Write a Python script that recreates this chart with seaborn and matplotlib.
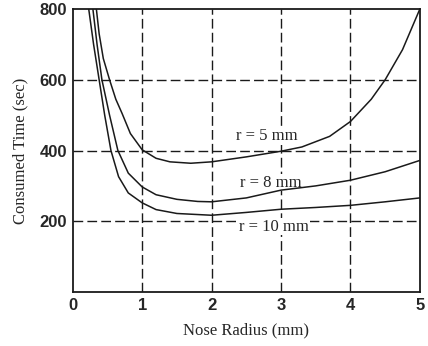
import numpy as np
import pandas as pd
import seaborn as sns
from matplotlib import pyplot as plt

# values
r5_x = [0.34, 0.38, 0.44, 0.53, 0.62, 0.71, 0.83, 1.0, 1.2, 1.4, 1.7, 2.0,
        2.5, 3.0, 3.3, 3.7, 4.0, 4.3, 4.5, 4.75, 5.0]
r5_y = [800, 730, 660, 600, 545, 505, 448, 402, 378, 368, 364, 368,
        382, 398, 410, 440, 482, 545, 600, 685, 800]

r8_x = [0.29, 0.35, 0.42, 0.53, 0.65, 0.8, 1.0, 1.2, 1.5, 1.8, 2.0,
        2.5, 3.0, 3.5, 4.0, 4.5, 5.0]
r8_y = [800, 700, 600, 500, 400, 336, 297, 275, 262, 256, 255,
        266, 288, 300, 316, 340, 372]

r10_x = [0.23, 0.30, 0.38, 0.46, 0.55, 0.66, 0.8, 1.0, 1.2, 1.5, 2.0,
         2.5, 3.0, 3.5, 4.0, 4.5, 5.0]
r10_y = [800, 700, 600, 500, 400, 326, 280, 252, 233, 222, 217,
         225, 234, 239, 245, 255, 266]

curve_labels = ["r = 5 mm", "r = 8 mm", "r = 10 mm"]
label_x = [2.79, 2.85, 2.9]
label_y = [441, 309, 185]

x_ticks = [0, 1, 2, 3, 4, 5]
y_ticks = [200, 400, 600, 800]

sns.set_theme(style="white")
plt.rcParams["font.family"] = ["Liberation Serif", "DejaVu Serif"]

f = plt.figure(figsize=(4.28, 3.46), dpi=100)
ax = f.add_axes([0.170, 0.156, 0.811, 0.818])

for xs, ys in [(r5_x, r5_y), (r8_x, r8_y), (r10_x, r10_y)]:
    sns.lineplot(x=xs, y=ys, color="k", linewidth=1.1, sort=False,
                 estimator=None, ax=ax, zorder=3)

ax.set_xlim(0, 5)
ax.set_ylim(0, 800)
ax.set_xticks(x_ticks)
ax.set_yticks(y_ticks)

for v in x_ticks[1:-1]:
    ax.axvline(v, color="k", linewidth=1.0, linestyle=(0, (7, 3)), zorder=1)
for v in y_ticks[:-1]:
    ax.axhline(v, color="k", linewidth=1.0, linestyle=(0, (7, 3)), zorder=1)

# labels blank out the gridlines behind them, curves stay on top
for s, x, y in zip(curve_labels, label_x, label_y):
    ax.text(x, y, s, fontsize=12, ha="center", va="center", zorder=2,
            bbox=dict(facecolor="white", edgecolor="none", pad=0.5))

ax.tick_params(axis="both", length=0, pad=4)
for lab in ax.get_xticklabels() + ax.get_yticklabels():
    lab.set_family(["Liberation Sans", "DejaVu Sans"])
    lab.set_fontweight("bold")
    lab.set_fontsize(12)

for sp in ax.spines.values():
    sp.set_color("k")
    sp.set_linewidth(1.3)

ax.set_xlabel("Nose Radius (mm)", fontsize=12, labelpad=7)
ax.set_ylabel("Consumed Time (sec)", fontsize=12, labelpad=8)

f.savefig("out.png", dpi=100)
